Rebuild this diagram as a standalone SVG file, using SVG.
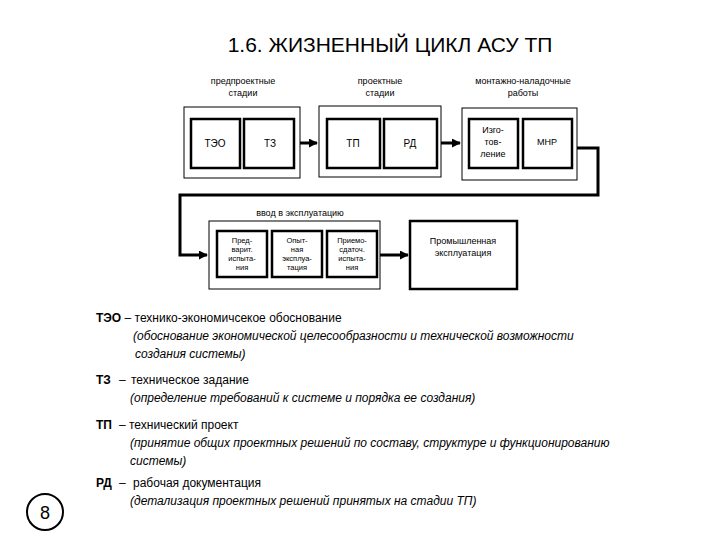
<svg xmlns="http://www.w3.org/2000/svg" width="720" height="540" viewBox="0 0 720 540">
<style>
text{font-family:"Liberation Sans",Arial,sans-serif;fill:#000}
.o{fill:#fff;stroke:#000;stroke-width:1}
.i{fill:#fff;stroke:#000;stroke-width:2.5}
.s{font-size:9px;text-anchor:middle}
.m{font-size:10px;text-anchor:middle}
.t{font-size:7.5px;text-anchor:middle}
.d{font-size:12px}
.it{font-size:12px;font-style:italic}
.c{fill:none;stroke:#000;stroke-width:3}
</style>
<defs><marker id="a" viewBox="0 0 10 10" refX="9" refY="5" markerWidth="3" markerHeight="3" orient="auto"><path d="M0,0L10,5L0,10z"/></marker></defs>
<rect width="720" height="540" fill="#fff"/>
<text x="390" y="52" font-size="21" text-anchor="middle">1.6. ЖИЗНЕННЫЙ ЦИКЛ АСУ ТП</text>
<g id="pre">
<text class="s" x="243" y="84">предпроектные</text><text class="s" x="243" y="96">стадии</text>
<rect class="o" x="184" y="107" width="116" height="71"/>
<rect class="i" x="191" y="119" width="49" height="49"/><text class="m" x="215" y="147">ТЭО</text>
<rect class="i" x="244" y="119" width="50" height="49"/><text class="m" x="270" y="147">ТЗ</text>
</g>
<g id="proj">
<text class="s" x="380" y="84">проектные</text><text class="s" x="380" y="96">стадии</text>
<rect class="o" x="319" y="106" width="122" height="71"/>
<rect class="i" x="327" y="119" width="53" height="49"/><text class="m" x="353" y="147">ТП</text>
<rect class="i" x="384" y="119" width="53" height="49"/><text class="m" x="410" y="147">РД</text>
</g>
<g id="mnr">
<text class="s" x="523" y="84">монтажно-наладочные</text><text class="s" x="523" y="96">работы</text>
<rect class="o" x="462" y="108" width="115" height="72"/>
<rect class="i" x="469" y="119" width="49" height="49"/>
<text class="s" x="493" y="133">Изго-</text><text class="s" x="493" y="145">тов-</text><text class="s" x="493" y="157">ление</text>
<rect class="i" x="523" y="119" width="49" height="49"/><text class="s" x="547" y="145">МНР</text>
</g>
<g id="vvod">
<text class="s" x="300" y="216">ввод в эксплуатацию</text>
<rect class="o" x="209" y="221" width="171" height="68"/>
<rect class="i" x="217" y="231" width="50" height="46"/>
<text class="t" x="242" y="243">Пред-</text><text class="t" x="242" y="252">варит.</text><text class="t" x="242" y="261">испыта-</text><text class="t" x="242" y="270">ния</text>
<rect class="i" x="272" y="231" width="50" height="46"/>
<text class="t" x="297" y="243">Опыт-</text><text class="t" x="297" y="252">ная</text><text class="t" x="297" y="261">эксплуа-</text><text class="t" x="297" y="270">тация</text>
<rect class="i" x="327" y="231" width="50" height="46"/>
<text class="t" x="352" y="243">Приемо-</text><text class="t" x="352" y="252">сдаточ.</text><text class="t" x="352" y="261">испыта-</text><text class="t" x="352" y="270">ния</text>
</g>
<g id="prom">
<rect class="i" x="410" y="221" width="107" height="68"/>
<text class="s" x="463" y="244">Промышленная</text><text class="s" x="463" y="256">эксплуатация</text>
</g>
<g id="connectors">
<path class="c" d="M300,143H317" marker-end="url(#a)"/>
<path class="c" d="M441,143H460" marker-end="url(#a)"/>
<path class="c" d="M577,148H598V195H180V255H207" marker-end="url(#a)"/>
<path class="c" d="M380,255H408" marker-end="url(#a)"/>
</g>
<g id="legend">
<text class="d" x="96" y="322"><tspan font-weight="bold">ТЭО</tspan> – технико-экономичсекое обоснование</text>
<text class="it" x="133" y="340">(обоснование экономической целесообразности и технической возможности</text>
<text class="it" x="135" y="358">создания системы)</text>
<text class="d" x="96" y="384"><tspan font-weight="bold">ТЗ</tspan><tspan x="119">–</tspan><tspan x="131">техническое задание</tspan></text>
<text class="it" x="130" y="402">(определение требований к системе и порядка ее  создания)</text>
<text class="d" x="96" y="429"><tspan font-weight="bold">ТП</tspan><tspan x="119">– технический проект</tspan></text>
<text class="it" x="130" y="447">(принятие общих проектных решений по составу, структуре и функционированию</text>
<text class="it" x="130" y="465">системы)</text>
<text class="d" x="96" y="487"><tspan font-weight="bold">РД</tspan><tspan x="119">–</tspan><tspan x="133">рабочая документация</tspan></text>
<text class="it" x="130" y="505">(детализация проектных решений принятых на стадии ТП)</text>
</g>
<g id="page"><circle cx="45" cy="512" r="18" fill="#fff" stroke="#000" stroke-width="2"/><text x="45" y="519" font-size="18" text-anchor="middle">8</text></g>
</svg>
